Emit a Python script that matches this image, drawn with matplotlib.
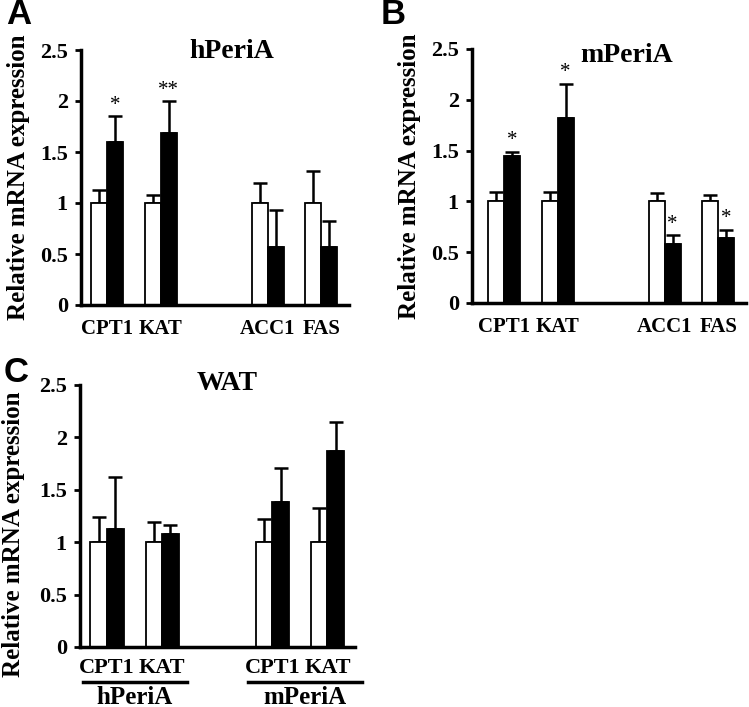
import matplotlib
matplotlib.use("Agg")
import matplotlib.pyplot as plt
import numpy as np

plt.rcParams['font.family'] = ['Liberation Serif', 'DejaVu Serif']
plt.rcParams['font.weight'] = 'bold'

# ---- data ----
genes_ab = ["CPT1", "KAT", "ACC1", "FAS"]
pos_ab = [0, 1, 3, 4]

a_ctrl = [1.0, 1.0, 1.0, 1.0]
a_ctrl_err = [0.13, 0.08, 0.20, 0.31]
a_trt = [1.60, 1.69, 0.57, 0.57]
a_trt_err = [0.25, 0.31, 0.36, 0.25]
a_stars = ["*", "**", "", ""]

b_ctrl = [1.0, 1.0, 1.0, 1.0]
b_ctrl_err = [0.09, 0.09, 0.08, 0.06]
b_trt = [1.45, 1.82, 0.58, 0.64]
b_trt_err = [0.04, 0.34, 0.09, 0.08]
b_stars = ["*", "*", "*", "*"]

genes_c = ["CPT1", "KAT", "CPT1", "KAT"]
groups_c = ["hPeriA", "mPeriA"]
pos_c = [0, 1, 3, 4]
c_ctrl = [1.0, 1.0, 1.0, 1.0]
c_ctrl_err = [0.24, 0.19, 0.22, 0.33]
c_trt = [1.13, 1.08, 1.38, 1.875]
c_trt_err = [0.49, 0.08, 0.33, 0.27]

yticks = [0, 0.5, 1, 1.5, 2, 2.5]
ytick_labels = ["0", "0.5", "1", "1.5", "2", "2.5"]

W, H = 749, 707
fig = plt.figure(figsize=(W / 100, H / 100), dpi=100)

bw = 0.30


def px_axes(l, r, t, b):
    return fig.add_axes([l / W, 1 - b / H, (r - l) / W, (b - t) / H])


def draw(ax, pos, ctrl, cerr, trt, terr, xlim, stars=None, title=None, title_xy=None):
    pos = np.array(pos, dtype=float)
    ax.bar(pos - bw / 2, ctrl, bw, color="white", edgecolor="black", linewidth=1.3, zorder=2)
    ax.bar(pos + bw / 2, trt, bw, color="black", edgecolor="black", linewidth=1.3, zorder=2)
    ax.errorbar(pos - bw / 2, ctrl, yerr=[np.zeros(len(ctrl)), cerr], fmt="none",
                ecolor="black", elinewidth=1.8, capsize=4.7, capthick=1.8, zorder=1)
    ax.errorbar(pos + bw / 2, trt, yerr=[np.zeros(len(trt)), terr], fmt="none",
                ecolor="black", elinewidth=1.8, capsize=4.7, capthick=1.8, zorder=1)
    if stars:
        for p, v, e, s in zip(pos, trt, terr, stars):
            if s:
                ax.annotate(s, (p + bw / 2, v + e), xytext=(0, 1), textcoords="offset points",
                            ha="center", va="bottom", fontsize=15, fontweight="normal")
    ax.set_xlim(*xlim)
    ax.set_ylim(0, 2.5)
    ax.set_yticks(yticks)
    ax.set_yticklabels(ytick_labels, fontsize=16, fontweight="bold")
    ax.tick_params(axis="y", direction="out", length=4.5, width=2, pad=5)
    ax.tick_params(axis="x", length=0, pad=10)
    for s in ["top", "right"]:
        ax.spines[s].set_visible(False)
    for s in ["left", "bottom"]:
        ax.spines[s].set_linewidth(2.5)
    ax.set_ylabel("Relative mRNA expression", fontsize=18, fontweight="bold", labelpad=7)
    if title:
        ax.text(title_xy[0], title_xy[1], title, transform=ax.transAxes, ha="center",
                va="center", fontsize=20, fontweight="bold")


axA = px_axes(81, 349, 50, 305)
draw(axA, pos_ab, a_ctrl, a_ctrl_err, a_trt, a_trt_err, (-0.49, 4.52), a_stars,
     "hPeriA", ((232 - 81) / 268, 1 - (52 - 50) / 255))
axA.set_xticks(pos_ab)
axA.set_xticklabels(genes_ab, fontsize=15, fontweight="bold")

axB = px_axes(472, 746, 49, 303)
draw(axB, pos_ab, b_ctrl, b_ctrl_err, b_trt, b_trt_err, (-0.6, 4.52), b_stars,
     "mPeriA", ((627 - 472) / 274, 1 - (55 - 49) / 254))
axB.set_xticks(pos_ab)
axB.set_xticklabels(genes_ab, fontsize=15, fontweight="bold")

axC = px_axes(80, 355, 385, 647)
draw(axC, pos_c, c_ctrl, c_ctrl_err, c_trt, c_trt_err, (-0.49, 4.5), None,
     "WAT", ((227 - 80) / 275, 1 - (383 - 385) / 262))
axC.set_xticks(pos_c)
axC.set_xticklabels(genes_c, fontsize=16, fontweight="bold")
axC.tick_params(axis="x", pad=8)
axC.yaxis.set_label_coords((25 - 80) / 275, 1 - (534 - 385) / 262)
# group underline and labels
for (x0, x1), g in zip([(83, 187), (248, 362)], groups_c):
    fig.add_artist(plt.Line2D([x0 / W, x1 / W], [1 - 682 / H, 1 - 682 / H],
                              color="black", linewidth=2.5))
    fig.text((x0 + x1) / 2 / W, 1 - 697 / H, g, ha="center", va="center",
             fontsize=18, fontweight="bold")

# panel letters
for letter, x, y in [("A", 6, 15), ("B", 381, 15), ("C", 4, 372)]:
    fig.text(x / W, 1 - y / H, letter, ha="left", va="center", fontsize=25,
             fontweight="bold", family=["Liberation Sans", "DejaVu Sans"])

fig.savefig("out.png", dpi=100)
